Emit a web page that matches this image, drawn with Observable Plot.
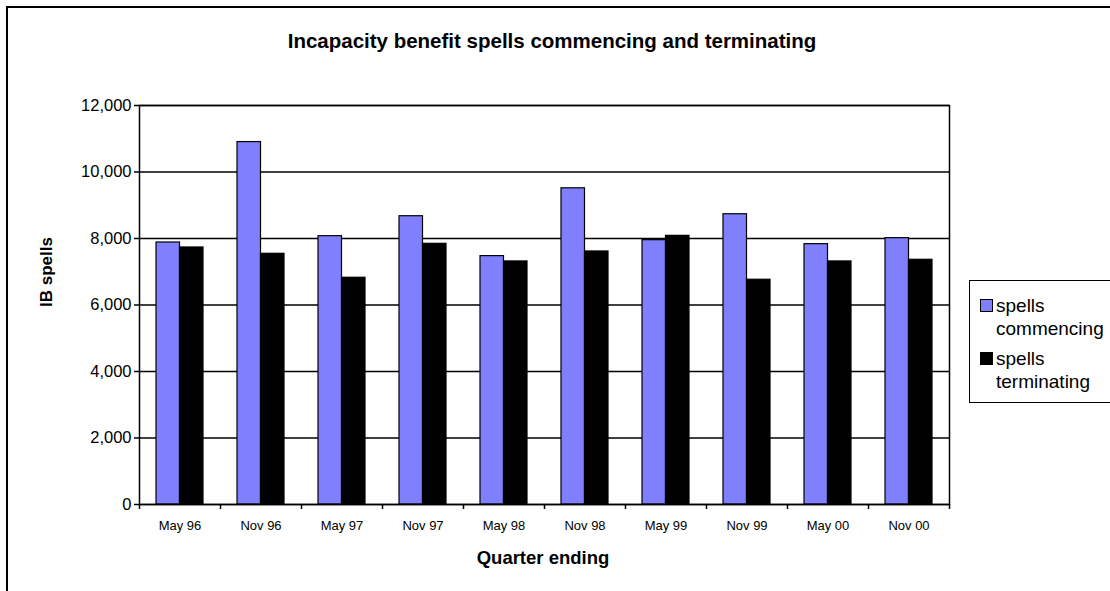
<!DOCTYPE html>
<html>
<head>
<meta charset="utf-8">
<script src="https://cdn.jsdelivr.net/npm/d3@7"></script>
<script src="https://cdn.jsdelivr.net/npm/@observablehq/plot@0.6"></script>
<style>
  html, body { margin: 0; padding: 0; background: #fff; }
  body { width: 1110px; height: 591px; overflow: hidden; position: relative; font-family: "Liberation Sans", Arial, sans-serif; color: #000; }
  #border { position: absolute; left: 6px; top: 6px; width: 1200px; height: 700px; border: 2px solid #000; box-sizing: border-box; }
  #chart { position: absolute; left: 0; top: 0; }
  .t { position: absolute; white-space: nowrap; line-height: 1.15; }
  #title { left: 552px; top: 29px; transform: translateX(-50%); font-size: 20.5px; font-weight: bold; }
  #xlabel { left: 543px; top: 547px; transform: translateX(-50%); font-size: 18.5px; font-weight: bold; }
  #ylabel { left: 47px; top: 272px; transform: translate(-50%, -50%) rotate(-90deg); font-size: 17px; font-weight: bold; }
  #legend { position: absolute; left: 969px; top: 280px; width: 200px; height: 123px; border: 1.5px solid #000; box-sizing: border-box; }
  .item { position: absolute; left: 10px; font-size: 19px; line-height: 23px; }
  .sw { position: absolute; left: 0; top: 5px; width: 13px; height: 13px; border: 1px solid #000; box-sizing: border-box; }
  .lt { margin-left: 16px; }
</style>
</head>
<body>
<div id="border"></div>
<div id="chart"></div>
<div class="t" id="title">Incapacity benefit spells commencing and terminating</div>
<div class="t" id="xlabel">Quarter ending</div>
<div class="t" id="ylabel">IB spells</div>
<div id="legend"></div>
<script>
const quarters = ["May 96", "Nov 96", "May 97", "Nov 97", "May 98", "Nov 98", "May 99", "Nov 99", "May 00", "Nov 00"];
const commencing = [7880, 10900, 8070, 8670, 7470, 9510, 7950, 8730, 7830, 8010];
const terminating = [7730, 7540, 6820, 7840, 7310, 7610, 8080, 6760, 7310, 7360];
const seriesNames = ["spells\ncommencing", "spells\nterminating"];
const seriesColors = ["#8080FF", "#000000"];
const yTicks = [0, 2000, 4000, 6000, 8000, 10000, 12000];

const dataC = quarters.map((q, i) => ({quarter: q, value: commencing[i]}));
const dataT = quarters.map((q, i) => ({quarter: q, value: terminating[i]}));

const W = 960, H = 591, mL = 139, mR = 11, mT = 105, mB = 87;
const band = (W - mL - mR) / quarters.length;
const barW = 23.5;
const gap = (band - 2 * barW) / 2;

const chart = Plot.plot({
  width: W,
  height: H,
  marginLeft: mL,
  marginRight: mR,
  marginTop: mT,
  marginBottom: mB,
  style: {fontFamily: "'Liberation Sans', Arial, sans-serif", color: "#000", background: "transparent"},
  x: {domain: quarters, padding: 0, label: null},
  y: {domain: [0, 12000], label: null},
  marks: [
    Plot.gridY(yTicks, {stroke: "#000", strokeOpacity: 1, strokeWidth: 1.5}),
    Plot.barY(dataC, {x: "quarter", y: "value", fill: seriesColors[0], stroke: "#000", strokeWidth: 1.2, insetLeft: gap, insetRight: band - gap - barW}),
    Plot.barY(dataT, {x: "quarter", y: "value", fill: seriesColors[1], stroke: "#000", strokeWidth: 1.2, insetLeft: gap + barW, insetRight: gap}),
    Plot.frame({stroke: "#000", strokeWidth: 1.5}),
    Plot.axisY(yTicks, {tickFormat: d3.format(","), tickSize: 5, tickPadding: 3, fontSize: 16.5, stroke: "#000", strokeWidth: 1.5}),
    Plot.axisX({tickSize: 0, tickPadding: 16, fontSize: 13}),
    Plot.ruleX(quarters, {x: d => d, y1: 0, y2: 0, insetBottom: -5, dx: -band / 2, stroke: "#000", strokeWidth: 1.5}),
    Plot.ruleX([quarters[quarters.length - 1]], {x: d => d, y1: 0, y2: 0, insetBottom: -5, dx: band / 2, stroke: "#000", strokeWidth: 1.5})
  ]
});
document.getElementById("chart").appendChild(chart);

const legend = document.getElementById("legend");
seriesNames.forEach((name, i) => {
  const item = document.createElement("div");
  item.className = "item";
  item.style.top = (13 + i * 53) + "px";
  const sw = document.createElement("div");
  sw.className = "sw";
  sw.style.background = seriesColors[i];
  item.appendChild(sw);
  name.split("\n").forEach(line => {
    const d = document.createElement("div");
    d.className = "lt";
    d.textContent = line;
    item.appendChild(d);
  });
  legend.appendChild(item);
});
</script>
</body>
</html>
